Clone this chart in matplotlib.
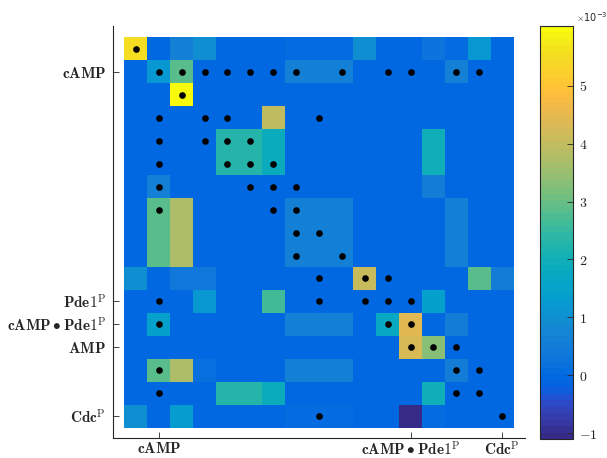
import numpy as np
import matplotlib
matplotlib.use('Agg')
import matplotlib.pyplot as plt
from matplotlib.colors import ListedColormap

plt.rcParams['mathtext.fontset'] = 'cm'

# ---- data (values in units of 1e-3) ----
row01 = [5.5, 0, 0.6, 0.95, 0, 0, 0, 0.1, 0.1, 0.1, 1.0, 0, 0, 0.3, 0.1, 1.2, 0]
row02 = [0, 1.2, 2.9, 0, 0, 0, 0, 0.6, 0.6, 0.6, 0, 0, 0, 0, 0.6, 0, 0]
row03 = [0, 0, 6.03, 0, 0, 0, 0, 0, 0, 0, 0, 0, 0, 0, 0, 0, 0]
row04 = [0, 0, 0, 0, 0, 0, 4.0, 0, 0, 0, 0, 0, 0, 0, 0, 0, 0]
row05 = [0, 0, 0, 0, 2.35, 2.35, 1.8, 0, 0, 0, 0, 0, 0, 2.0, 0, 0, 0]
row06 = [0, 0, 0, 0, 2.35, 2.35, 1.8, 0, 0, 0, 0, 0, 0, 2.0, 0, 0, 0]
row07 = [0, 0.6, 0, 0, 0, 0, 0, 0, 0, 0, 0, 0, 0, 0.5, 0, 0, 0]
row08 = [0, 2.8, 3.8, 0, 0, 0, 0, 0.6, 0.6, 0.6, 0, 0, 0, 0, 0.6, 0, 0]
row09 = [0, 2.8, 3.8, 0, 0, 0, 0, 0.6, 0.6, 0.6, 0, 0, 0, 0, 0.6, 0, 0]
row10 = [0, 2.8, 3.8, 0, 0, 0, 0, 0.6, 0.6, 0.6, 0, 0, 0, 0, 0.6, 0, 0]
row11 = [1.0, 0, 0.4, 0.4, 0, 0, 0, 0, 0, 0, 4.1, 0, 0, 0, 0, 2.9, 0.5]
row12 = [0, 0, 0, 1.2, 0, 0, 2.6, 0, 0, 0, 0, 0, 0, 1.4, 0, 0, 0]
row13 = [0, 1.4, 0, 0, 0, 0, 0, 0.6, 0.6, 0.6, 0, 1.7, 4.4, 0, 0.5, 0, 0]
row14 = [0, 0, 0, 0, 0, 0, 0, 0, 0, 0, 0, 0, 4.3, 3.3, 0, 0, 0]
row15 = [0, 2.8, 3.8, 0.15, 0, 0, 0, 0.6, 0.6, 0.6, 0, 0, 0, 0, 0.5, 0, 0]
row16 = [0, 0, 0, 0, 2.35, 2.35, 1.8, 0, 0, 0, 0, 0, 0, 2.0, 0, 0, 0]
row17 = [1.0, 0, 1.3, 0, 0, 0, 0, 0.1, 0.1, 0.1, 0, 0, -1.1, 0.05, 0, 0, 0]
matrix = [row01, row02, row03, row04, row05, row06, row07, row08, row09,
          row10, row11, row12, row13, row14, row15, row16, row17]

# black dots: columns (1-based) for each row
dots = [[1], [2, 3, 4, 5, 6, 7, 8, 10, 12, 13, 15, 16], [3], [2, 4, 5, 9],
        [2, 4, 5, 6], [2, 5, 6, 7], [2, 6, 7, 8], [2, 7, 8], [8, 9], [8, 10],
        [9, 11, 12], [2, 9, 11, 12, 13], [2, 12, 13], [13, 14, 15],
        [2, 15, 16], [2, 15, 16], [9, 17]]

ytick_pos = [2, 12, 13, 14, 17]
ytick_labels = [r'$\mathbf{cAMP}$', r'$\mathbf{Pde1}^{\mathrm{P}}$',
                r'$\mathbf{cAMP}\bullet\mathbf{Pde1}^{\mathrm{P}}$',
                r'$\mathbf{AMP}$', r'$\mathbf{Cdc}^{\mathrm{P}}$']
xtick_pos = [2, 13, 17]
xtick_labels = [r'$\mathbf{cAMP}$',
                r'$\mathbf{cAMP}\bullet\mathbf{Pde1}^{\mathrm{P}}$',
                r'$\mathbf{Cdc}^{\mathrm{P}}$']
cbar_ticks = [-1, 0, 1, 2, 3, 4, 5]

# ---- parula colormap ----
parula = [
[0.2081,0.1663,0.5292],[0.2116,0.1898,0.5777],[0.2123,0.2138,0.6270],[0.2081,0.2386,0.6771],
[0.1959,0.2645,0.7279],[0.1707,0.2919,0.7792],[0.1253,0.3242,0.8303],[0.0591,0.3598,0.8683],
[0.0117,0.3875,0.8820],[0.0060,0.4086,0.8828],[0.0165,0.4266,0.8786],[0.0329,0.4430,0.8720],
[0.0498,0.4586,0.8641],[0.0629,0.4737,0.8554],[0.0723,0.4887,0.8467],[0.0779,0.5040,0.8384],
[0.0793,0.5200,0.8312],[0.0749,0.5375,0.8263],[0.0641,0.5570,0.8240],[0.0488,0.5772,0.8228],
[0.0343,0.5966,0.8199],[0.0265,0.6137,0.8135],[0.0239,0.6287,0.8038],[0.0231,0.6418,0.7913],
[0.0228,0.6535,0.7768],[0.0267,0.6642,0.7607],[0.0384,0.6743,0.7436],[0.0590,0.6838,0.7254],
[0.0843,0.6928,0.7062],[0.1133,0.7015,0.6859],[0.1453,0.7098,0.6646],[0.1801,0.7177,0.6424],
[0.2178,0.7250,0.6193],[0.2586,0.7317,0.5954],[0.3022,0.7376,0.5712],[0.3482,0.7424,0.5473],
[0.3953,0.7459,0.5244],[0.4420,0.7481,0.5033],[0.4871,0.7491,0.4840],[0.5300,0.7491,0.4661],
[0.5709,0.7485,0.4494],[0.6099,0.7473,0.4337],[0.6473,0.7456,0.4188],[0.6834,0.7435,0.4044],
[0.7184,0.7411,0.3905],[0.7525,0.7384,0.3768],[0.7858,0.7356,0.3633],[0.8185,0.7327,0.3498],
[0.8507,0.7299,0.3360],[0.8824,0.7274,0.3217],[0.9139,0.7258,0.3063],[0.9450,0.7261,0.2886],
[0.9739,0.7314,0.2666],[0.9938,0.7455,0.2403],[0.9990,0.7653,0.2164],[0.9955,0.7861,0.1967],
[0.9880,0.8066,0.1794],[0.9789,0.8271,0.1633],[0.9697,0.8481,0.1475],[0.9626,0.8705,0.1309],
[0.9589,0.8949,0.1132],[0.9598,0.9218,0.0948],[0.9661,0.9514,0.0755],[0.9763,0.9831,0.0538]]
cmap = ListedColormap(parula)

dark = '#262626'
W, H = 607, 458
fig = plt.figure(figsize=(W/100, H/100), dpi=100)
ax = fig.add_axes([113/W, 1-438/H, (525-113)/W, (438-26)/H])

data = np.array(matrix) * 1e-3
n = data.shape[0]
im = ax.imshow(data, cmap=cmap, extent=(0.5, n+0.5, n+0.5, 0.5),
               aspect='auto', interpolation='nearest',
               vmin=data.min(), vmax=data.max())

for r, cols in enumerate(dots, start=1):
    ax.plot(cols, [r]*len(cols), 'o', color='black', markersize=4.8,
            markeredgewidth=0, linestyle='none')

ax.set_xlim(0, 18)
ax.set_ylim(17.95, 0)
for s in ['top', 'right']:
    ax.spines[s].set_visible(False)
for s in ['left', 'bottom']:
    ax.spines[s].set_color(dark)
    ax.spines[s].set_linewidth(0.8)
ax.set_xticks(xtick_pos)
ax.set_xticklabels(xtick_labels)
ax.set_yticks(ytick_pos)
ax.set_yticklabels(ytick_labels)
ax.tick_params(direction='in', length=4, width=0.6, colors=dark,
               labelsize=11, pad=5)
ax.tick_params(axis='x', pad=2)

cax = fig.add_axes([540/W, 1-439/H, 33/W, (439-26)/H])
cb = fig.colorbar(im, cax=cax)
cb.set_ticks([t*1e-3 for t in cbar_ticks])
cb.set_ticklabels([r'$\mathbf{%d}$' % t for t in cbar_ticks])
cb.outline.set_edgecolor(dark)
cb.outline.set_linewidth(0.8)
cax.tick_params(direction='in', length=4, width=0.6, colors=dark,
                labelsize=10, pad=4)
fig.text(576/W, 1-17/H, r'$\times\mathregular{10^{-3}}$', fontsize=7,
         color=dark, va='center', ha='left')

fig.savefig('out.png', dpi=100)
